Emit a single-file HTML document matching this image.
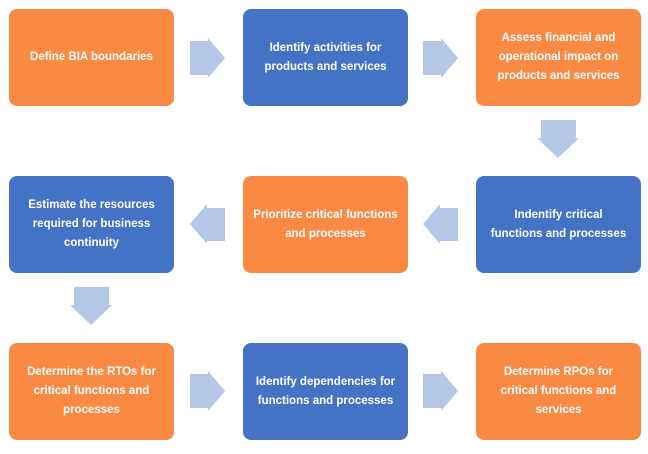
<!DOCTYPE html>
<html><head><style>
body{margin:0;width:648px;height:454px;background:#fff;position:relative;overflow:hidden;font-family:"Liberation Sans",sans-serif}
.b{position:absolute;width:165px;height:97px;border-radius:8px;color:#fff;font-weight:bold;font-size:11.5px;line-height:19px;display:flex;align-items:center;justify-content:center;text-align:center;padding:0 6px;box-sizing:border-box}
.o{background:#F98943}.u{background:#4472C4}
svg{position:absolute;left:0;top:0}
</style></head><body>
<svg width="648" height="454"><g fill="#B4C7E7">
<polygon points="190,41 208,41 208,38 225,58 208,78 208,75 190,75"/>
<polygon points="423,41 441,41 441,38 458,58 441,78 441,75 423,75"/>
<polygon points="541,120 576,120 576,138 579,138 558,158 537,138 541,138"/>
<polygon points="225,208 207,208 207,204 190,224 207,244 207,241 225,241"/>
<polygon points="458,208 440,208 440,204 423,224 440,244 440,241 458,241"/>
<polygon points="74,287 109,287 109,305 112,305 91,325 70,305 74,305"/>
<polygon points="190,374 208,374 208,371 225,391 208,411 208,408 190,408"/>
<polygon points="423,374 441,374 441,371 458,391 441,411 441,408 423,408"/>
</g></svg>
<div class="b o" style="left:9px;top:9px">Define BIA boundaries</div>
<div class="b u" style="left:243px;top:9px">Identify activities for<br>products and services</div>
<div class="b o" style="left:476px;top:9px">Assess financial and<br>operational impact on<br>products and services</div>
<div class="b u" style="left:9px;top:176px">Estimate the resources<br>required for business<br>continuity</div>
<div class="b o" style="left:243px;top:176px">Prioritize critical functions<br>and processes</div>
<div class="b u" style="left:476px;top:176px">Indentify critical<br>functions and processes</div>
<div class="b o" style="left:9px;top:343px">Determine the RTOs for<br>critical functions and<br>processes</div>
<div class="b u" style="left:243px;top:343px">Identify dependencies for<br>functions and processes</div>
<div class="b o" style="left:476px;top:343px">Determine RPOs for<br>critical functions and<br>services</div>
</body></html>
